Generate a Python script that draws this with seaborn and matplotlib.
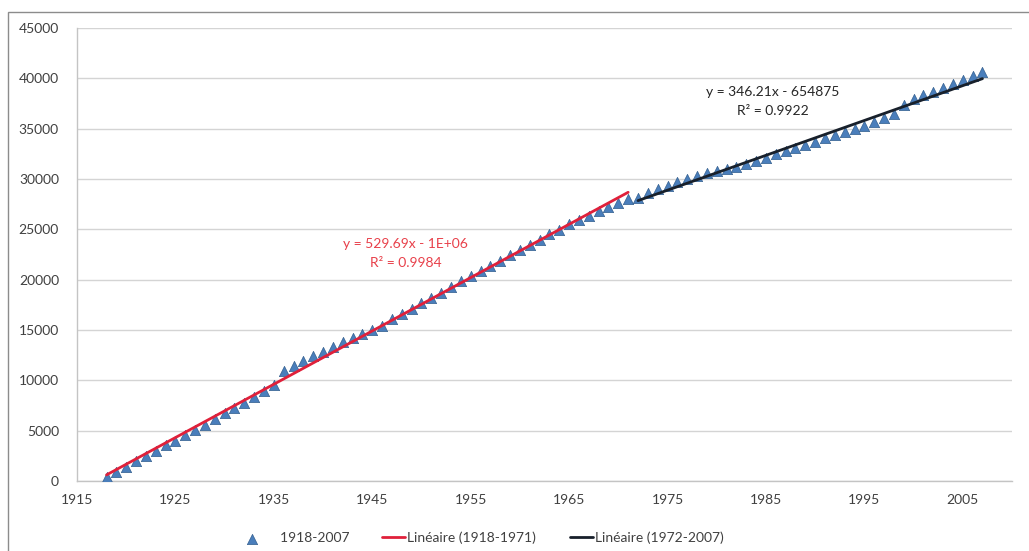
import numpy as np
import matplotlib
matplotlib.use("Agg")
import matplotlib.pyplot as plt
from matplotlib.patches import Rectangle
import seaborn as sns

# Yearly series, 1918-2007
years = list(range(1918, 2008))
values = [
    400, 880, 1410, 1940, 2470, 3000, 3530, 4010, 4540, 5070,          # 1918-1927
    5600, 6130, 6710, 7240, 7770, 8350, 8930, 9510, 10880, 11410,      # 1928-1937
    11890, 12370, 12850, 13330, 13810, 14240, 14620, 15000, 15430, 16060,  # 1938-1947
    16540, 17120, 17700, 18180, 18660, 19240, 19820, 20350, 20830, 21310,  # 1948-1957
    21890, 22470, 22950, 23480, 23960, 24490, 24970, 25500, 25930, 26360,  # 1958-1967
    26780, 27210, 27590, 28020, 28150, 28600, 29000, 29340, 29690, 29980,  # 1968-1977
    30280, 30570, 30770, 30970, 31160, 31460, 31760, 32100, 32450, 32740,  # 1978-1987
    33090, 33390, 33680, 34030, 34330, 34670, 34970, 35310, 35660, 36060,  # 1988-1997
    36450, 37350, 37950, 38340, 38690, 39080, 39480, 39830, 40220, 40620,  # 1998-2007
]

# Linear trends for the two periods
red_period = (1918, 1971)
red_slope = 529.69
black_period = (1972, 2007)
black_slope = 346.21
black_intercept = -654875

red_label = "y = 529.69x - 1E+06\nR\u00b2 = 0.9984"
black_label = "y = 346.21x - 654875\nR\u00b2 = 0.9922"

legend_labels = ["    1918-2007", "Lin\u00e9aire (1918-1971)", "Lin\u00e9aire (1972-2007)"]

x_ticks = list(range(1915, 2006, 10))
y_ticks = list(range(0, 45001, 5000))

sns.set_theme(style="white")
plt.rcParams["font.family"] = ["Lato", "DejaVu Sans"]

W, H = 1029, 551
fig = plt.figure(figsize=(W / 100, H / 100), dpi=100)
ax = fig.add_axes([77 / W, 1 - 481 / H, (1012 - 77) / W, (481 - 28) / H])

yrs = np.array(years)
vals = np.array(values, dtype=float)

sns.scatterplot(x=yrs, y=vals, marker="^", s=55, color="#4a7ebb",
                edgecolor="#35608f", linewidth=0.5, ax=ax, zorder=3,
                label=legend_labels[0])

# red trend: stated slope, intercept through the mean of its period
m_red = (yrs >= red_period[0]) & (yrs <= red_period[1])
red_intercept = vals[m_red].mean() - red_slope * yrs[m_red].mean()
rx = np.array(red_period)
sns.lineplot(x=rx, y=red_slope * rx + red_intercept, color="#e0203a",
             linewidth=2.0, ax=ax, zorder=4, label=legend_labels[1])

bx = np.array(black_period)
sns.lineplot(x=bx, y=black_slope * bx + black_intercept, color="#18202b",
             linewidth=2.0, ax=ax, zorder=4, label=legend_labels[2])

ax.set_xlim(1915, 2010)
ax.set_ylim(0, 45000)
ax.set_xticks(x_ticks)
ax.set_yticks(y_ticks)
ax.set_xlabel("")
ax.set_ylabel("")

ax.grid(axis="y", color="#d4d4d4", linewidth=1.0)
ax.grid(axis="x", visible=False)
ax.set_axisbelow(True)
for side in ("top", "right"):
    ax.spines[side].set_visible(False)
for side in ("left", "bottom"):
    ax.spines[side].set_color("#c4c4c4")
    ax.spines[side].set_linewidth(1.0)

ax.tick_params(axis="x", direction="in", length=4, width=1, color="#cfcfcf",
               labelsize=10, labelcolor="#404040", pad=9)
ax.tick_params(axis="y", direction="out", length=4, width=1, color="#cfcfcf",
               labelsize=10, labelcolor="#404040", pad=9)

# trend equations
ax.text(1948.4, 22550, red_label, color="#e8404a", fontsize=10,
        ha="center", va="center", linespacing=1.7)
ax.text(1985.7, 37700, black_label, color="#262626", fontsize=10,
        ha="center", va="center", linespacing=1.7)

ax.legend(loc="center", bbox_to_anchor=(482 / W, 1 - 538 / H),
          bbox_transform=fig.transFigure, ncol=3, frameon=False,
          fontsize=10, handlelength=1.65, handletextpad=0.15,
          columnspacing=2.4, labelcolor="#404040")

# chart-area border
fig.patches.append(Rectangle((8 / W, -0.05), 1.1, 1 - 12 / H + 0.05,
                             transform=fig.transFigure, fill=False,
                             edgecolor="#8c8c8c", linewidth=1.0))

fig.savefig("out.png", dpi=100, facecolor="white")
